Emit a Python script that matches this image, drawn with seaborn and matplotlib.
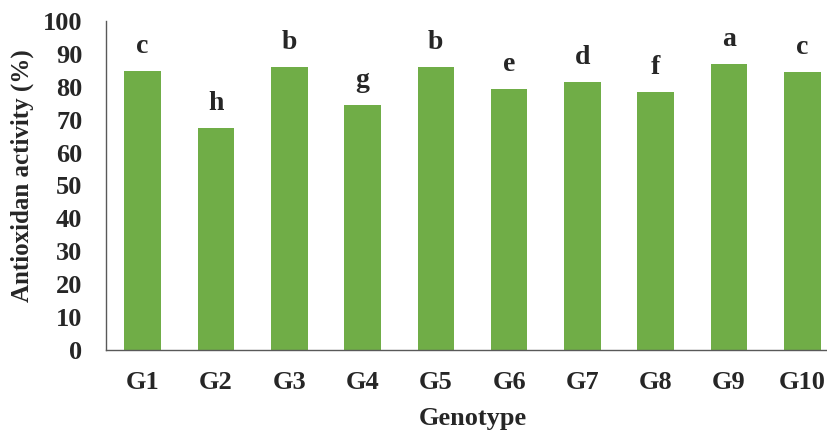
import matplotlib
matplotlib.use("Agg")
import matplotlib.pyplot as plt
import seaborn as sns
import pandas as pd

# Data
genotypes = ["G1", "G2", "G3", "G4", "G5", "G6", "G7", "G8", "G9", "G10"]
activity = [84.9, 67.4, 86.1, 74.6, 86.0, 79.3, 81.4, 78.4, 87.0, 84.6]
letters = ["c", "h", "b", "g", "b", "e", "d", "f", "a", "c"]

df = pd.DataFrame({"Genotype": genotypes, "Activity": activity})

sns.set_style("white")
plt.rcParams["font.family"] = ["Liberation Serif", "DejaVu Serif"]
plt.rcParams["font.weight"] = "bold"

fig = plt.figure(figsize=(8.28, 4.32), dpi=100)
ax = fig.add_axes([106 / 828, 82 / 432, 733 / 828, 329 / 432])

sns.barplot(data=df, x="Genotype", y="Activity", color="#70AD47",
            width=0.5, saturation=1, edgecolor="none", ax=ax)

# significance letters above each bar
for i, (v, lab) in enumerate(zip(activity, letters)):
    ax.annotate(lab, (i, v), xytext=(0, 13), textcoords="offset points",
                ha="center", va="baseline", fontsize=20, fontweight="bold")

ax.set_ylim(0, 100)
ax.set_yticks(range(0, 101, 10))
ax.set_xlim(-0.5, len(genotypes) - 0.5)
ax.tick_params(axis="y", length=0, pad=17, labelsize=19)
ax.tick_params(axis="x", length=0, pad=15, labelsize=19)
for t in ax.get_xticklabels() + ax.get_yticklabels():
    t.set_fontweight("bold")

ax.set_xlabel("Genotype", fontsize=19, fontweight="bold", va="center")
ax.xaxis.set_label_coords(0.5, -0.207)
ax.set_ylabel("Antioxidan activity (%)", fontsize=18, fontweight="bold", va="center")
ax.yaxis.set_label_coords(-0.1146, 0.53)

sns.despine(ax=ax)
for s in ["left", "bottom"]:
    ax.spines[s].set_color("#595959")
    ax.spines[s].set_linewidth(1.0)

fig.savefig("out.png", dpi=100)
